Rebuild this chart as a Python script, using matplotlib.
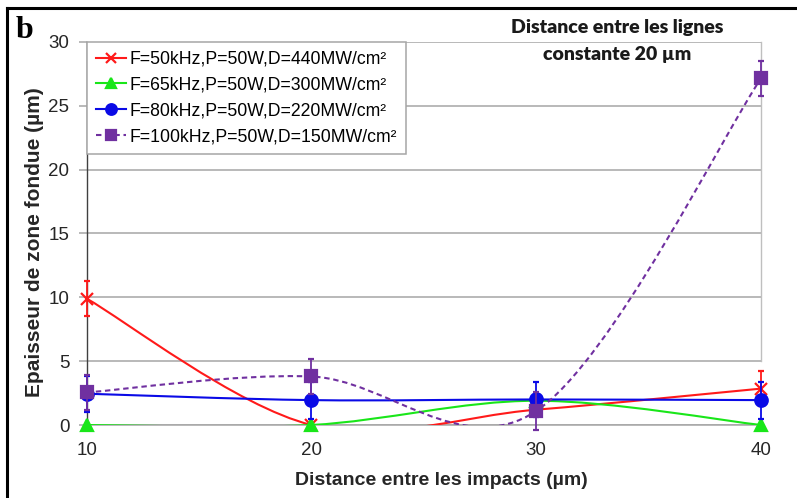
import matplotlib
matplotlib.use("Agg")
import matplotlib.pyplot as plt
from matplotlib.path import Path
from matplotlib.patches import PathPatch
from matplotlib.lines import Line2D

# ---- data ----
distances = [10, 20, 30, 40]
labels = ["F=50kHz,P=50W,D=440MW/cm²",
          "F=65kHz,P=50W,D=300MW/cm²",
          "F=80kHz,P=50W,D=220MW/cm²",
          "F=100kHz,P=50W,D=150MW/cm²"]
red_vals = [9.9, 0.0, 1.2, 2.85]
red_err = [1.4, 0.0, 0.0, 1.4]
green_vals = [0.0, 0.0, 1.9, 0.0]
green_err = [0.0, 0.0, 0.0, 0.0]
blue_vals = [2.45, 1.95, 2.0, 1.95]
blue_err = [1.4, 1.45, 1.4, 1.45]
purple_vals = [2.55, 3.8, 1.1, 27.15]
purple_err = [1.4, 1.4, 1.5, 1.4]
yticks = [0, 5, 10, 15, 20, 25, 30]
xticks = [10, 20, 30, 40]

plt.rcParams['font.family'] = ['Liberation Sans', 'DejaVu Sans']

fig = plt.figure(figsize=(7.97, 4.98), dpi=100)
ax = fig.add_axes([86.7 / 797, 73 / 498, (761 - 86.7) / 797, 383 / 498])


def smooth_path(xs, ys):
    """Excel-like smoothed line: cubic Bezier (Catmull-Rom control points)."""
    n = len(xs)
    verts = [(xs[0], ys[0])]
    codes = [Path.MOVETO]
    for i in range(n - 1):
        i0 = max(i - 1, 0)
        i3 = min(i + 2, n - 1)
        c1 = (xs[i] + (xs[i + 1] - xs[i0]) / 6.0, ys[i] + (ys[i + 1] - ys[i0]) / 6.0)
        c2 = (xs[i + 1] - (xs[i3] - xs[i]) / 6.0, ys[i + 1] - (ys[i3] - ys[i]) / 6.0)
        verts += [c1, c2, (xs[i + 1], ys[i + 1])]
        codes += [Path.CURVE4] * 3
    return Path(verts, codes)


series = [
    (red_vals, red_err, '#ff1a1a', 'x', 9, '-'),
    (green_vals, green_err, '#19e619', '^', 8, '-'),
    (blue_vals, blue_err, '#0a0ae6', 'o', 9, '-'),
    (purple_vals, purple_err, '#7030a0', 's', 9, (0, (2.6, 1.8))),
]

handles = []
for k, (vals, errs, col, mk, ms, ls) in enumerate(series):
    z = 3 + k
    patch = PathPatch(smooth_path(distances, vals), fill=False, edgecolor=col,
                      linewidth=1.5, linestyle=ls, zorder=z)
    ax.add_patch(patch)
    eb = ax.errorbar(distances, vals, yerr=errs, fmt=mk, color=col, ms=ms,
                     mew=1.6, mfc=col, mec=col, elinewidth=1.3, capsize=2.5,
                     capthick=1.3, zorder=z + 0.5)
    eb[0].set_clip_on(False)
    for c in eb[1]:
        c.set_clip_on(False)
    for c in eb[2]:
        c.set_clip_on(False)
    handles.append(Line2D([], [], color=col, marker=mk, ms=ms * 0.85, mew=1.6,
                          linestyle=ls, linewidth=1.5))

ax.set_xlim(10, 40)
ax.set_ylim(0, 30)
ax.set_xticks(xticks)
ax.set_yticks(yticks)
ax.set_xticklabels([str(v) for v in xticks])
ax.set_yticklabels([str(v) for v in yticks])
ax.tick_params(axis='x', length=0, pad=12.5, labelsize=13.5, labelcolor='#262626')
ax.tick_params(axis='y', length=5.5, width=1.1, color='#a6a6a6', pad=7,
               labelsize=13.5, labelcolor='#262626')
ax.yaxis.grid(True, color='#a6a6a6', linewidth=1.1)
ax.set_axisbelow(True)
ax.spines['top'].set_visible(False)
ax.spines['left'].set_color('#404040')
ax.spines['left'].set_linewidth(1.0)
ax.spines['bottom'].set_color('#a6a6a6')
ax.spines['bottom'].set_linewidth(1.1)
ax.spines['right'].set_color('#bfbfbf')
ax.spines['right'].set_linewidth(1.0)
ax.spines['right'].set_bounds(5, 30)

leg = ax.legend(handles, labels, loc='upper left', bbox_to_anchor=(0, 1),
                borderaxespad=0, fontsize=12.7, handlelength=1.75,
                handletextpad=0.2, labelspacing=0.5, borderpad=0.5,
                fancybox=False, framealpha=1, edgecolor='#a6a6a6')
leg.get_frame().set_linewidth(1.1)
leg.set_zorder(10)

fig.text(441.5 / 797, 1 - 480 / 498, "Distance entre les impacts (µm)",
         ha='center', va='center', fontsize=14, fontweight='bold', color='#262626')
fig.text(34.5 / 797, 1 - 242 / 498, "Epaisseur de zone fondue (µm)",
         ha='center', va='center', rotation=90, fontsize=15,
         fontweight='bold', color='#262626')
fig.text(617 / 797, 1 - 41 / 498, "Distance entre les lignes\nconstante 20 µm",
         ha='center', va='center', fontsize=14, fontweight='heavy',
         family=['Lato', 'DejaVu Sans'], linespacing=1.65, color='#1a1a1a')
fig.text(24 / 797, 1 - 30 / 498, "b", ha='center', va='center', fontsize=23,
         fontweight='bold', family=['Liberation Serif', 'DejaVu Serif'])

# figure frame (top and left edges)
fig.add_artist(Line2D([7 / 797, 7 / 797], [0, 1 - 8 / 498], color='black',
                      linewidth=2.2, transform=fig.transFigure))
fig.add_artist(Line2D([7 / 797, 1], [1 - 8 / 498, 1 - 8 / 498], color='black',
                      linewidth=2.2, transform=fig.transFigure))

fig.savefig("out.png", dpi=100)
